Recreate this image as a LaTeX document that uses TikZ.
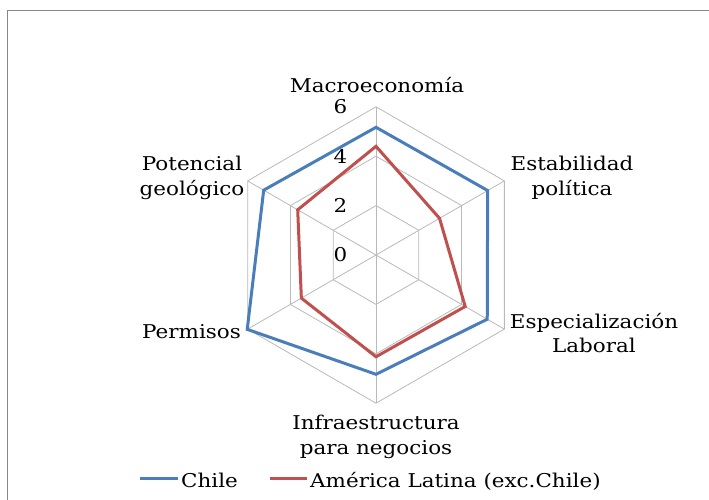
\documentclass[tikz,border=0pt]{standalone}
\usepackage{fontspec}
\setmainfont{DejaVu Serif}[FakeStretch=1.13]
\definecolor{chileblue}{RGB}{74,126,187}
\definecolor{latamred}{RGB}{192,80,77}
\definecolor{gridgray}{RGB}{185,185,185}
\definecolor{framegray}{RGB}{136,136,136}
\begin{document}
\begin{tikzpicture}[x=1pt,y=-1pt,
  font=\fontsize{19}{24.5}\selectfont,
  gridline/.style={draw=gridgray,line width=0.8pt},
  chile/.style={draw=chileblue,line width=3pt,line join=miter},
  latam/.style={draw=latamred,line width=3pt,line join=miter},
  lbl/.style={inner sep=0pt,align=center},
  tick/.style={inner sep=0pt,anchor=east}]
\useasboundingbox (0,0) rectangle (709,500);
\clip (0,0) rectangle (709,500);
\draw[draw=framegray,line width=1.5pt] (7.5,10.5) rectangle (760,560);
% radar
\begin{scope}[shift={(376,255)},x=24.7pt,y=24.7pt]
  \coordinate (C) at (0,0);
  \foreach \r in {2,4,6}{
    \draw[gridline] (90:\r) -- (30:\r) -- (-30:\r) -- (-90:\r) -- (-150:\r) -- (150:\r) -- cycle;
  }
  \foreach \a in {90,30,-30,-90,-150,150}{
    \coordinate (ax\a) at (\a:6);
    \draw[gridline] (C) -- (ax\a);
  }
  \foreach \r in {0,2,4,6}{
    \node[tick] (t\r) at (-1.15,\r) {\r};
  }
  \draw[latam] (90:4.4) -- (30:2.97) -- (-30:4.17) -- (-90:4.12) -- (-150:3.49) -- (150:3.66) -- cycle;
  \draw[chile] (90:5.17) -- (30:5.22) -- (-30:5.2) -- (-90:4.83) -- (-150:6.02) -- (150:5.25) -- cycle;
\end{scope}
% axis labels
\node[lbl,anchor=base] (macro) at (377,92.7) {Macroeconomía};
\node[lbl] (estab) at (572,178) {Estabilidad\\política};
\node[lbl] (espec) at (594,333) {Especialización\\Laboral};
\node[lbl] (infra) at (376,437) {Infraestructura\\para negocios};
\node[lbl,anchor=base] (perm) at (191.5,338) {Permisos};
\node[lbl] (pot) at (192,178) {Potencial\\geológico};
% legend
\coordinate (cl1) at (140,478);
\coordinate (cl2) at (178,478);
\draw[chile] (cl1) -- (cl2);
\node[lbl,anchor=base west] (lchile) at (181,487) {Chile};
\coordinate (rl1) at (270,478);
\coordinate (rl2) at (307,478);
\draw[latam] (rl1) -- (rl2);
\node[lbl,anchor=base west] (llatam) at (310,487) {América Latina (exc.Chile)};
\end{tikzpicture}
\end{document}
